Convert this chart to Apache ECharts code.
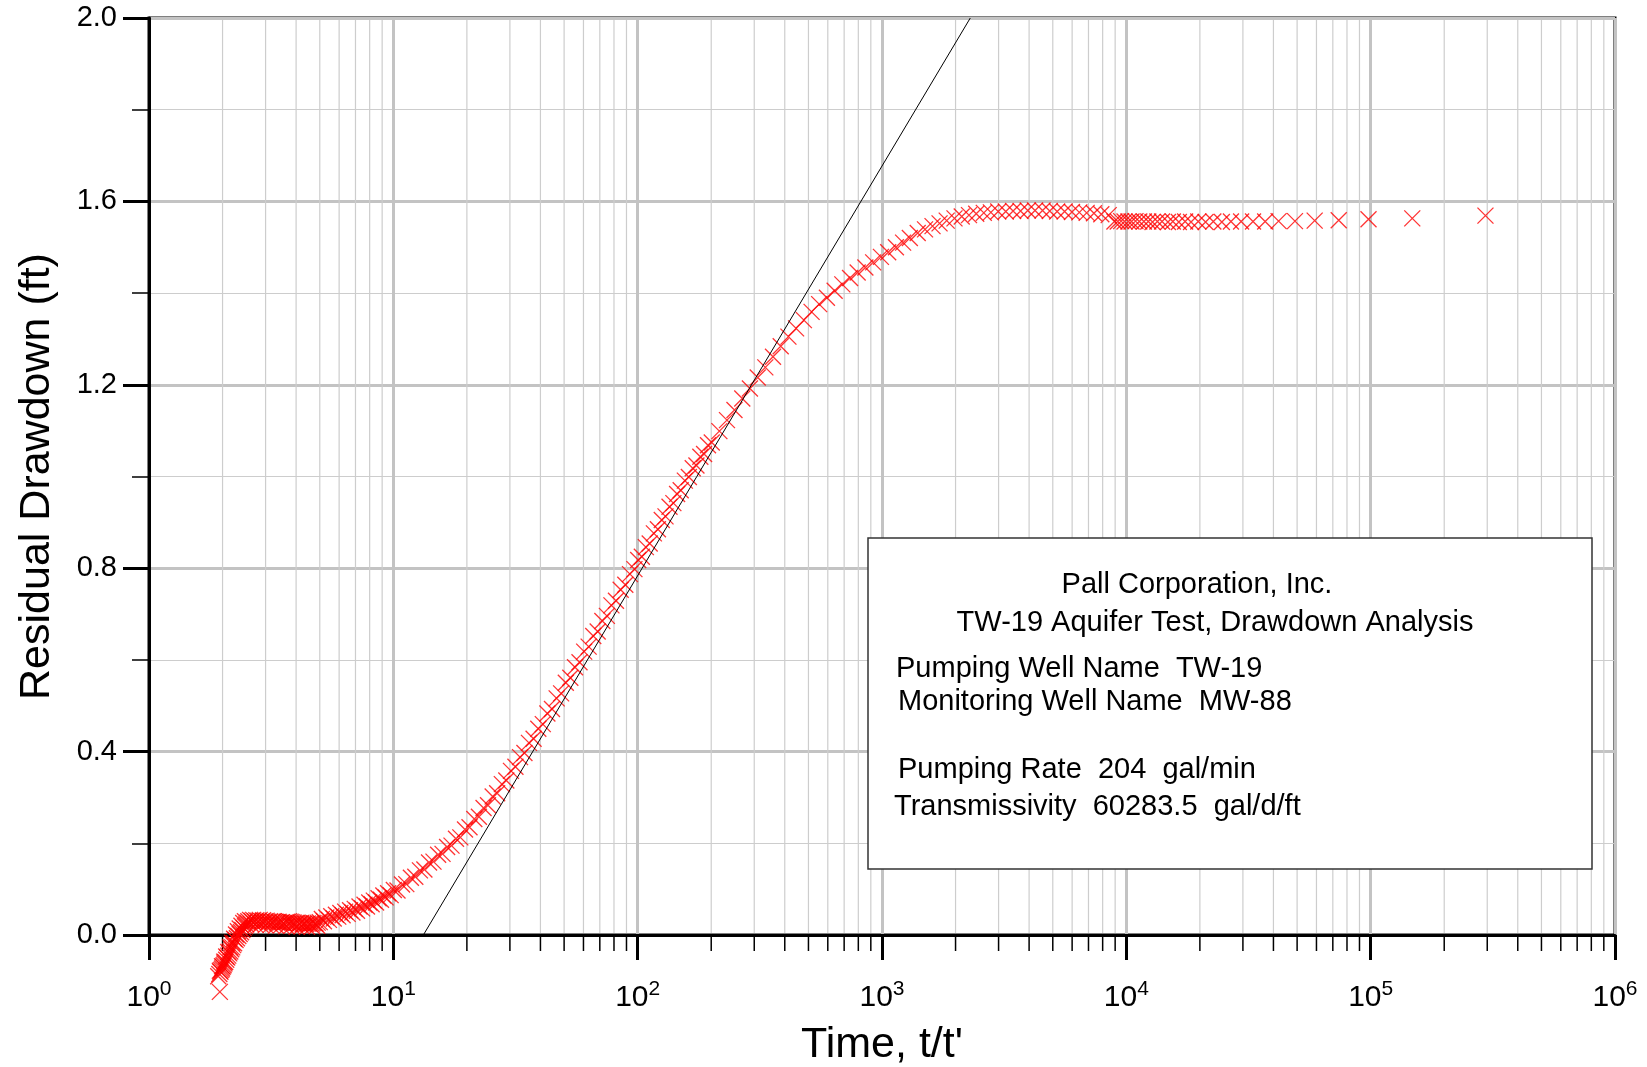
<!DOCTYPE html>
<html>
<head>
<meta charset="utf-8">
<title>TW-19 Residual Drawdown</title>
<script src="https://cdn.jsdelivr.net/npm/echarts@6/dist/echarts.min.js"></script>
<style>
    html, body { margin: 0; padding: 0; background: #fff; }
    #chart { width: 1647px; height: 1067px; }
</style>
</head>
<body>
<div id="chart"></div>
<script>
/**
 * Residual drawdown vs t/t' (recovery test, semi-log)
 * - points are [t/t', residual drawdown (ft)]
 */

// late recovery: steep part near t/t' = 2 (first one is the lone low point)
const steepPoints = [
    [1.95, -0.124],
    [1.92, -0.090], [1.94, -0.085], [1.96, -0.080], [1.975, -0.076], [1.99, -0.073],
    [2.005, -0.069], [2.02, -0.066], [2.035, -0.062], [2.05, -0.059], [2.07, -0.054],
    [2.09, -0.049], [2.11, -0.045], [2.13, -0.040], [2.15, -0.036], [2.17, -0.031],
    [2.19, -0.027], [2.21, -0.022], [2.23, -0.018], [2.26, -0.011], [2.29, -0.007],
    [2.32, -0.002], [2.35, 0.002], [2.38, 0.006], [2.41, 0.011], [2.44, 0.015],
    [2.47, 0.019], [2.5, 0.023], [2.53, 0.027],
    // second (upper) row of the same stretch
    [1.95, -0.078], [1.99, -0.068], [2.03, -0.058], [2.07, -0.047], [2.11, -0.037],
    [2.15, -0.027], [2.19, -0.017], [2.23, -0.008], [2.27, 0.001], [2.31, 0.008],
    [2.35, 0.014], [2.39, 0.020], [2.43, 0.026], [2.47, 0.030]
];

// flat stretch between 2.5 and 5
const plateauPoints = [
    [2.55, 0.030], [2.59, 0.033], [2.63, 0.031], [2.67, 0.033], [2.71, 0.030],
    [2.75, 0.032], [2.8, 0.031], [2.84, 0.033], [2.89, 0.030], [2.93, 0.032],
    [2.98, 0.030], [3.03, 0.031], [3.08, 0.029], [3.13, 0.030], [3.18, 0.028],
    [3.23, 0.030], [3.28, 0.028], [3.34, 0.027], [3.39, 0.029], [3.45, 0.027],
    [3.5, 0.028], [3.56, 0.026], [3.62, 0.028], [3.68, 0.029], [3.74, 0.030],
    [3.8, 0.029], [3.86, 0.028], [3.92, 0.027], [3.99, 0.026], [4.05, 0.027],
    [4.12, 0.025], [4.19, 0.026], [4.26, 0.024], [4.33, 0.025], [4.4, 0.024],
    [4.47, 0.025], [4.55, 0.024], [4.63, 0.025], [4.71, 0.026], [4.8, 0.025],
    [4.9, 0.027],
    // lower row
    [2.61, 0.024], [2.73, 0.022], [2.86, 0.023], [3.0, 0.021], [3.15, 0.022],
    [3.31, 0.020], [3.47, 0.021], [3.65, 0.019], [3.83, 0.020], [4.02, 0.018],
    [4.22, 0.019], [4.43, 0.018], [4.66, 0.019], [4.88, 0.020]
];

// rising limb 5 - 100
const risePoints = [
    [5.0, 0.028], [5.2, 0.030], [5.45, 0.033], [5.7, 0.036], [5.95, 0.040],
    [6.2, 0.043], [6.5, 0.046], [6.8, 0.049], [7.1, 0.053], [7.45, 0.058],
    [7.8, 0.062], [8.15, 0.067], [8.5, 0.071], [8.9, 0.077], [9.3, 0.082],
    [9.75, 0.087], [10.4, 0.097], [11.3, 0.111], [12.3, 0.127], [13.4, 0.143],
    [14.6, 0.160], [15.9, 0.177], [17.3, 0.195], [18.8, 0.213], [20.5, 0.235],
    [22.4, 0.258], [24.4, 0.283], [26.6, 0.309], [29, 0.337], [31.6, 0.367],
    [34.4, 0.397], [37.5, 0.428], [40.9, 0.460], [44.6, 0.493], [48.6, 0.527],
    [53, 0.561], [57.8, 0.595], [63, 0.629], [68.6, 0.662], [74.8, 0.696],
    [81.5, 0.729], [89, 0.764], [97, 0.798]
];

// second rail of the rising limb (slightly above the first)
const riseUpperPoints = [
    [5.1, 0.035], [5.32, 0.038], [5.57, 0.041], [5.82, 0.044], [6.07, 0.048],
    [6.35, 0.051], [6.65, 0.054], [6.95, 0.057], [7.27, 0.062], [7.62, 0.066],
    [7.97, 0.071], [8.32, 0.075], [8.7, 0.080], [9.1, 0.086], [9.52, 0.091],
    [10.05, 0.098], [10.85, 0.110], [11.8, 0.125], [12.85, 0.141], [14.0, 0.158],
    [15.25, 0.175], [16.6, 0.192], [18.05, 0.210], [19.65, 0.230], [21.45, 0.253],
    [23.4, 0.277], [25.5, 0.302], [27.8, 0.329], [30.3, 0.358], [33.0, 0.388],
    [35.9, 0.419], [39.2, 0.450], [42.7, 0.483], [46.6, 0.516], [50.8, 0.550],
    [55.4, 0.584], [60.4, 0.618], [65.8, 0.652], [71.7, 0.685], [78.1, 0.719],
    [85.2, 0.753], [93, 0.787], [100.5, 0.818], [108, 0.846], [116.5, 0.876],
    [125.5, 0.905], [135, 0.934], [145, 0.962], [156, 0.991], [168, 1.018],
    [180.5, 1.043], [194, 1.068]
];

// bend 100 - 1000
const bendPoints = [
    [104, 0.825], [112, 0.854], [121, 0.885], [130, 0.913], [140, 0.942],
    [150, 0.970], [162, 0.999], [174, 1.024], [187, 1.049], [201, 1.074],
    [216, 1.099], [232, 1.123], [249, 1.145], [268, 1.170], [288, 1.192],
    [310, 1.216], [333, 1.238], [358, 1.261], [385, 1.284], [414, 1.305],
    [445, 1.323], [479, 1.341], [515, 1.359], [553, 1.376], [595, 1.390],
    [640, 1.405], [688, 1.419], [740, 1.433], [795, 1.445], [855, 1.456],
    [920, 1.467]
];

// crest 1000 - 8500
const peakPoints = [
    [990, 1.479], [1060, 1.489], [1140, 1.500], [1220, 1.510], [1300, 1.520],
    [1400, 1.531], [1500, 1.539], [1610, 1.546], [1720, 1.552], [1840, 1.558],
    [1980, 1.563], [2120, 1.567], [2270, 1.570], [2430, 1.573], [2610, 1.575],
    [2790, 1.576], [2990, 1.578], [3210, 1.578], [3440, 1.579], [3690, 1.579],
    [3950, 1.580], [4230, 1.580], [4540, 1.580], [4860, 1.579], [5210, 1.578],
    [5590, 1.578], [5990, 1.577], [6420, 1.576], [6880, 1.575], [7370, 1.574],
    [7900, 1.572], [8470, 1.570]
];

// early recovery: sparse points out to 3e5
const tailPoints = [
    [8940, 1.556], [9220, 1.556], [9520, 1.557], [9830, 1.556], [10200, 1.556],
    [10500, 1.556], [10900, 1.557], [11300, 1.556], [11800, 1.556], [12300, 1.556],
    [12800, 1.555], [13400, 1.556], [14000, 1.556], [14800, 1.555], [15500, 1.556],
    [16400, 1.555], [17400, 1.556], [18400, 1.555], [19700, 1.556], [21100, 1.555],
    [22700, 1.556], [24600, 1.555], [26800, 1.556], [29500, 1.556], [33000, 1.556],
    [37000, 1.556], [42000, 1.557], [49000, 1.557], [59000, 1.558], [74000, 1.559],
    [98000, 1.561], [148000, 1.563], [295000, 1.569]
];

// Cooper-Jacob straight-line fit
const fitTime = [13.27, 2298];
const fitDrawdown = [0, 2.0];

// minor log ticks 2..9 per decade
const minorTimeTicks = [
    2, 3, 4, 5, 6, 7, 8, 9,
    20, 30, 40, 50, 60, 70, 80, 90,
    200, 300, 400, 500, 600, 700, 800, 900,
    2000, 3000, 4000, 5000, 6000, 7000, 8000, 9000,
    20000, 30000, 40000, 50000, 60000, 70000, 80000, 90000,
    200000, 300000, 400000, 500000, 600000, 700000, 800000, 900000
];

const boxHeader = ['Pall Corporation, Inc.', 'TW-19 Aquifer Test, Drawdown Analysis'];
const boxLines = [
    'Pumping Well Name  TW-19',
    'Monitoring Well Name  MW-88',
    'Pumping Rate  204  gal/min',
    'Transmissivity  60283.5  gal/d/ft'
];

const FONT = '"Liberation Sans", Arial, sans-serif';
const GRID_MAJOR = '#c3c3c3';
const GRID_MINOR = '#cdcdcd';

const chart = echarts.init(document.getElementById('chart'));

const points = [].concat(
    steepPoints, plateauPoints, risePoints, riseUpperPoints,
    bendPoints, peakPoints, tailPoints
);

// minor vertical grid lines + their ticks, placed through the log axis
function renderMinorTick(params, api) {
    const v = api.value(0);
    const top = api.coord([v, 2.0]);
    const bottom = api.coord([v, 0]);
    return {
        type: 'group',
        children: [
            {
                type: 'line',
                shape: { x1: top[0], y1: top[1] + 2, x2: bottom[0], y2: bottom[1] - 2 },
                style: { stroke: GRID_MINOR, lineWidth: 1.2 }
            },
            {
                type: 'line',
                shape: { x1: bottom[0], y1: bottom[1], x2: bottom[0], y2: bottom[1] + 16 },
                style: { stroke: '#000', lineWidth: 1.5 }
            }
        ]
    };
}

// info box (legend panel)
const boxText = (text, x, y, align) => ({
    type: 'text',
    x: x,
    y: y,
    z: 101,
    style: {
        text: text,
        fontFamily: FONT,
        fontSize: 29,
        fill: '#000',
        align: align,
        verticalAlign: 'middle'
    }
});

const graphic = [
    {
        type: 'rect',
        z: 100,
        shape: { x: 868, y: 538, width: 724, height: 331 },
        style: { fill: '#fff', stroke: '#333', lineWidth: 1.5 }
    },
    boxText(boxHeader[0], 1197, 585, 'center'),
    boxText(boxHeader[1], 1215, 623, 'center'),
    boxText(boxLines[0], 896, 669, 'left'),
    boxText(boxLines[1], 898, 702, 'left'),
    boxText(boxLines[2], 898, 770, 'left'),
    boxText(boxLines[3], 894, 807, 'left')
];

const option = {
    animation: false,
    backgroundColor: '#fff',
    grid: {
        left: 149,
        right: 32,
        top: 18,
        bottom: 132,
        show: true,
        borderColor: '#000',
        borderWidth: 3,
        backgroundColor: 'transparent',
        outerBoundsMode: 'none'
    },
    xAxis: {
        type: 'log',
        logBase: 10,
        min: 1,
        max: 1e6,
        name: "Time, t/t'",
        nameLocation: 'middle',
        nameGap: 89,
        nameTextStyle: { fontFamily: FONT, fontSize: 43, color: '#000' },
        axisLine: { onZero: false, lineStyle: { color: '#000', width: 3 } },
        axisTick: { length: 25, lineStyle: { color: '#000', width: 3 } },
        axisLabel: {
            margin: 44,
            formatter: (v) => `{b|10}{s|${Math.round(Math.log10(v))}}`,
            rich: {
                b: { fontFamily: FONT, fontSize: 30, lineHeight: 37, color: '#000' },
                s: { fontFamily: FONT, fontSize: 21, lineHeight: 21, verticalAlign: 'top', color: '#000' }
            }
        },
        splitLine: { show: true, lineStyle: { color: GRID_MAJOR, width: 3 } }
    },
    yAxis: {
        type: 'value',
        min: 0,
        max: 2,
        interval: 0.4,
        name: 'Residual Drawdown (ft)',
        nameLocation: 'middle',
        nameGap: 90,
        nameRotate: 90,
        nameTextStyle: { fontFamily: FONT, fontSize: 43, color: '#000' },
        axisLine: { show: true, onZero: false, lineStyle: { color: '#000', width: 3 } },
        axisTick: { show: true, length: 26, lineStyle: { color: '#000', width: 3 } },
        minorTick: { show: true, splitNumber: 2, length: 17, lineStyle: { color: '#000', width: 1.5 } },
        axisLabel: {
            margin: 32,
            fontFamily: FONT,
            fontSize: 29,
            color: '#000',
            formatter: (v) => v.toFixed(1)
        },
        splitLine: { show: true, lineStyle: { color: GRID_MAJOR, width: 3 } },
        minorSplitLine: { show: true, lineStyle: { color: GRID_MINOR, width: 1.2 } }
    },
    graphic: graphic,
    series: [
        {
            type: 'custom',
            name: 'minor',
            silent: true,
            z: 1,
            renderItem: renderMinorTick,
            encode: { x: 0, y: 1 },
            data: minorTimeTicks.map(v => [v, 0])
        },
        {
            type: 'scatter',
            name: 'Residual drawdown',
            silent: true,
            clip: false,
            z: 3,
            symbol: 'path://M0,0L10,10M10,0L0,10',
            symbolSize: 16,
            itemStyle: { color: 'rgba(0,0,0,0)', borderColor: '#ff0000', borderWidth: 1.3 },
            data: points
        },
        {
            type: 'line',
            name: 'Fit',
            silent: true,
            z: 4,
            symbol: 'none',
            lineStyle: { color: '#000', width: 1 },
            data: fitTime.map((t, i) => [t, fitDrawdown[i]])
        }
    ]
};

chart.setOption(option);
</script>
</body>
</html>
